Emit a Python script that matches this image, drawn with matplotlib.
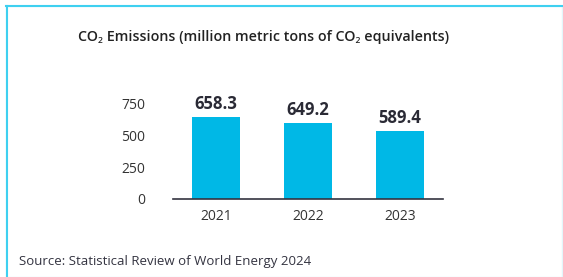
import matplotlib
matplotlib.use("Agg")
import matplotlib.pyplot as plt
from matplotlib.patches import Rectangle

plt.rcParams['font.family'] = ['Open Sans', 'Noto Sans', 'DejaVu Sans']

years = ["2021", "2022", "2023"]
bar_values = [643, 596, 533]
value_labels = ["658.3", "649.2", "589.4"]
y_ticks = [0, 250, 500, 750]
title = "CO\u2082 Emissions (million metric tons of CO\u2082 equivalents)"
source = "Source: Statistical Review of World Energy 2024"

W, H = 563, 277
fig = plt.figure(figsize=(W / 100, H / 100), dpi=100)

# frame
fig.patches.append(Rectangle((6 / W, 0), (562 - 6) / W, (H - 6) / H, transform=fig.transFigure,
                             fill=False, edgecolor="#e3f6fb", linewidth=1.0))
fig.lines.append(plt.Line2D([6 / W, 562 / W], [(H - 6) / H] * 2, transform=fig.transFigure,
                            color="#3fd0f0", linewidth=1.5))
fig.lines.append(plt.Line2D([6.5 / W, 6.5 / W], [0, (H - 6) / H], transform=fig.transFigure,
                            color="#3fd0f0", linewidth=1.5))

# axes: left 173px, right 443px, baseline 199px from top
ymax = 900
px_per_unit = 31.9 / 250
ax_h = ymax * px_per_unit
ax = fig.add_axes([173 / W, (H - 199) / H, (443 - 173) / W, ax_h / H])
x = range(len(years))
bars = ax.bar(x, bar_values, width=0.52, color="#00b8e6")
ax.set_xlim(-0.47, 2.47)
ax.set_ylim(0, ymax)
ax.set_yticks(y_ticks)
ax.set_yticklabels([str(v) for v in y_ticks], fontsize=10, color="#333333")
ax.set_xticks(list(x))
ax.set_xticklabels(years, fontsize=10, color="#333333")
ax.tick_params(axis="both", length=0)
ax.tick_params(axis="y", pad=20)
ax.tick_params(axis="x", pad=7)
for s in ["top", "right", "left"]:
    ax.spines[s].set_visible(False)
ax.spines["bottom"].set_color("#333340")
ax.spines["bottom"].set_linewidth(1.2)

for b, lab in zip(bars, value_labels):
    ax.annotate(lab, (b.get_x() + b.get_width() / 2, b.get_height()),
                xytext=(0, 15), textcoords="offset pixels", ha="center", va="center_baseline",
                fontsize=12, fontweight="bold", color="#2a2a35")

fig.text(264 / W, 1 - 37 / H, title, ha="center", va="center", fontsize=10.3,
         fontweight="semibold", color="#222222")
fig.text(19 / W, 1 - 261 / H, source, ha="left", va="center", fontsize=9.5, color="#333340")

fig.savefig("out.png", dpi=100)
